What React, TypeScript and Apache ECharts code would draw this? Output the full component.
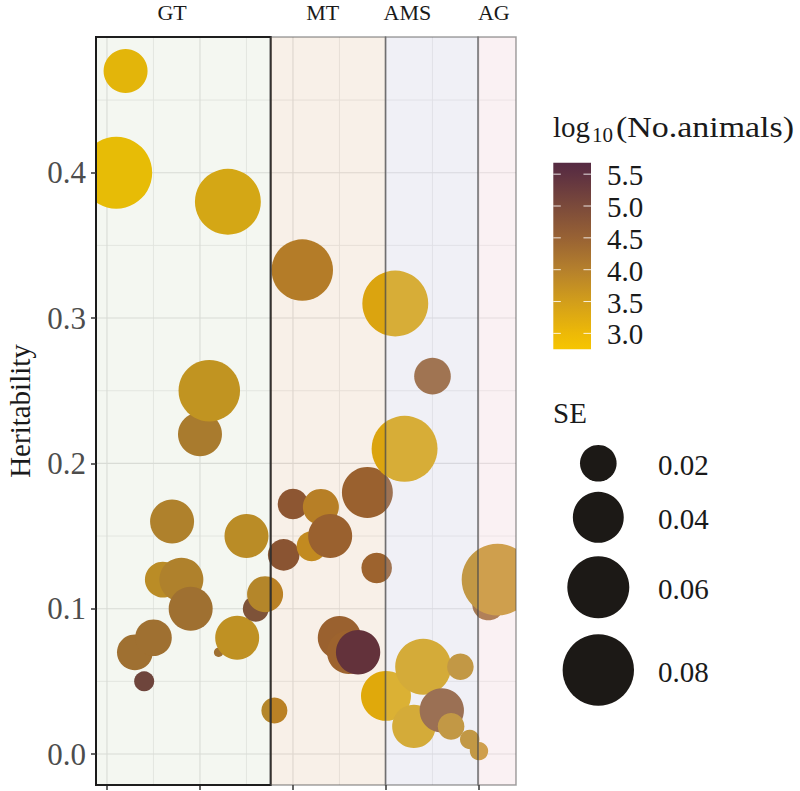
import { useEffect, useRef } from "react";
import * as echarts from "echarts";

// ---------------- data ----------------
const traitPosition = [1, 2, 3, 4, 5, 6, 7, 8, 9, 10, 11, 12, 13, 14, 15, 16, 17, 18, 19, 20, 21, 22, 23, 24, 25, 26, 27, 28, 29, 30, 31, 32, 33, 34, 35, 36, 37, 38, 39, 40, 41, 42];
const heritability = [0.40, 0.47, 0.07, 0.05, 0.08, 0.12, 0.16, 0.12, 0.10, 0.22, 0.25, 0.07, 0.38, 0.08, 0.15, 0.10, 0.11, 0.03, 0.137, 0.172, 0.333, 0.143, 0.17, 0.15, 0.08, 0.07, 0.07, 0.18, 0.128, 0.04, 0.31, 0.21, 0.019, 0.06, 0.26, 0.03, 0.019, 0.06, 0.01, 0.002, 0.103, 0.12];
const standardError = [0.081, 0.0295, 0.019, 0.005, 0.020, 0.019, 0.0295, 0.0295, 0.0295, 0.0295, 0.059, 0.0, 0.068, 0.0295, 0.0295, 0.0094, 0.0193, 0.0094, 0.0146, 0.0135, 0.059, 0.013, 0.0193, 0.0295, 0.0287, 0.0287, 0.030, 0.040, 0.0135, 0.0385, 0.068, 0.068, 0.0287, 0.0487, 0.020, 0.030, 0.0099, 0.0099, 0.0046, 0.004, 0.015, 0.081];
const log10Animals = [2.85, 3.0, 4.3, 5.2, 4.3, 3.8, 4.0, 4.0, 4.3, 4.1, 3.65, 4.3, 3.3, 3.7, 3.8, 4.9, 3.9, 3.9, 4.8, 4.75, 4.0, 3.75, 3.95, 4.5, 4.5, 4.45, 5.55, 4.5, 4.45, 3.15, 3.25, 3.25, 3.3, 3.3, 4.45, 4.55, 3.7, 3.7, 3.7, 3.7, 4.4, 3.7];

const regionNames = ["GT", "MT", "AMS", "AG"];
const regionStart = [-1.18, 17.6, 29.95, 39.9];
const regionEnd = [17.6, 29.95, 39.9, 43.98];
const regionLabelPosition = [7.0, 23.2, 32.3, 41.6];

const xMajorBreaks = [0, 10, 20, 30, 40];
const xMinorBreaks = [5, 15, 25, 35];
const yMajorBreaks = [0, 0.1, 0.2, 0.3, 0.4];
const yMinorBreaks = [0.05, 0.15, 0.25, 0.35, 0.45];

const colorBreaks = [3.0, 3.5, 4.0, 4.5, 5.0, 5.5];
const seBreaks = [0.02, 0.04, 0.06, 0.08];

// ---------------- scales / styling ----------------
const X_MIN = -1.18;
const X_MAX = 43.98;
const Y_MIN = -0.02133;
const Y_MAX = 0.4934;
const COLOR_MIN = 2.75;
const COLOR_MAX = 5.68;
const colorStops: [number, string][] = [
  [2.75, "#F6C500"],
  [3.0, "#EDB907"],
  [3.5, "#D29E1B"],
  [4.0, "#B5802C"],
  [4.5, "#986234"],
  [5.0, "#7B4A3B"],
  [5.5, "#5E3141"],
  [5.68, "#552A42"],
];
const SERIF = "'Liberation Serif', 'Times New Roman', serif";

const regionFill = ["rgba(98,141,55,0.07)", "rgba(177,88,0,0.09)", "rgba(180,180,210,0.2)", "rgba(235,200,208,0.25)"];
const regionStroke = ["#1e1e1e", "rgba(70,70,70,0.5)", "rgba(70,70,70,0.5)", "rgba(70,70,70,0.5)"];
const regionLineWidth = [2, 1.5, 1.5, 1.5];

function hexToRgb(h: string) {
  return [parseInt(h.slice(1, 3), 16), parseInt(h.slice(3, 5), 16), parseInt(h.slice(5, 7), 16)];
}
function colorFor(v: number) {
  if (v <= colorStops[0][0]) return colorStops[0][1];
  for (let i = 1; i < colorStops.length; i++) {
    if (v <= colorStops[i][0]) {
      const [v0, c0] = colorStops[i - 1];
      const [v1, c1] = colorStops[i];
      const t = (v - v0) / (v1 - v0);
      const a = hexToRgb(c0);
      const b = hexToRgb(c1);
      const m = a.map((x, k) => Math.round(x + (b[k] - x) * t));
      return `rgb(${m[0]},${m[1]},${m[2]})`;
    }
  }
  return colorStops[colorStops.length - 1][1];
}
const seRadius = (se: number) => Math.sqrt(22 + 15650 * se);

const textStyle = (text: string, size: number, extra: any = {}) => ({
  text,
  fontSize: size,
  fontFamily: SERIF,
  fill: "#1a1a1a",
  align: "left",
  textAlign: "left",
  verticalAlign: "middle",
  textVerticalAlign: "middle",
  ...extra,
});

export default function App() {
  const ref = useRef<HTMLDivElement>(null);
  useEffect(() => {
    if (!ref.current) return;
    const chart = echarts.init(ref.current, undefined, { renderer: "svg" });

    const points = traitPosition.map((x, i) => [x, heritability[i], standardError[i], log10Animals[i]]);

    // colour bar legend
    const barX = 553.3, barY = 162.7, barW = 37.7, barH = 186.6;
    const gradStops = colorStops
      .map(([v, c]) => ({ offset: (COLOR_MAX - v) / (COLOR_MAX - COLOR_MIN), color: c }))
      .sort((a, b) => a.offset - b.offset);
    const tickY = (v: number) => barY + ((COLOR_MAX - v) / (COLOR_MAX - COLOR_MIN)) * barH;

    const graphics: any[] = [
      { type: "text", x: 553, y: 127, style: textStyle("log", 29) },
      { type: "text", x: 592, y: 135, style: textStyle("10", 21) },
      { type: "text", x: 616, y: 127, scaleX: 1.17, style: textStyle("(No.animals)", 29) },
      {
        type: "rect", shape: { x: barX, y: barY, width: barW, height: barH },
        style: { fill: new echarts.graphic.LinearGradient(0, 0, 0, 1, gradStops) },
      },
      { type: "text", x: 553, y: 413, style: textStyle("SE", 29) },
    ];
    colorBreaks.forEach((v) => {
      const y = tickY(v);
      graphics.push({ type: "line", shape: { x1: barX, y1: y, x2: barX + barW / 5, y2: y }, style: { stroke: "rgba(255,255,255,0.85)", lineWidth: 1 } });
      graphics.push({ type: "line", shape: { x1: barX + barW * 0.8, y1: y, x2: barX + barW, y2: y }, style: { stroke: "rgba(255,255,255,0.85)", lineWidth: 1 } });
      graphics.push({ type: "text", x: 607, y: y + 1, style: textStyle(v.toFixed(1), 29) });
    });
    const seKeyY = [463.3, 517.3, 587.3, 670];
    seBreaks.forEach((se, i) => {
      graphics.push({ type: "circle", shape: { cx: 598.3, cy: seKeyY[i], r: seRadius(se) }, style: { fill: "#1c1916" } });
      graphics.push({ type: "text", x: 658, y: seKeyY[i] + 1.5, style: textStyle(se.toFixed(2), 29) });
    });

    const option: any = {
      animation: false,
      backgroundColor: "#ffffff",
      grid: { left: 96, right: 284, top: 37, bottom: 6, containLabel: false, outerBoundsMode: "none" },
      xAxis: {
        type: "value",
        min: X_MIN,
        max: X_MAX,
        axisLine: { show: false, onZero: false },
        axisTick: { show: true, length: 5, customValues: xMajorBreaks, lineStyle: { color: "#333333", width: 1.5 } },
        axisLabel: { show: false },
        splitLine: { show: false },
      },
      yAxis: {
        type: "value",
        min: Y_MIN,
        max: Y_MAX,
        z: 10,
        name: "Heritability",
        nameLocation: "middle",
        nameGap: 62,
        nameRotate: 90,
        nameTextStyle: { fontFamily: SERIF, fontSize: 29, color: "#1a1a1a" },
        axisLine: { show: true, onZero: false, lineStyle: { color: "#1a1a1a", width: 2 } },
        axisTick: { show: true, length: 5, customValues: yMajorBreaks, lineStyle: { color: "#333333", width: 1.5 } },
        axisLabel: {
          customValues: yMajorBreaks,
          margin: 10,
          fontFamily: SERIF,
          fontSize: 31,
          color: "#4d4d4d",
          formatter: (v: number) => (Math.abs(v * 10 - Math.round(v * 10)) < 1e-6 ? v.toFixed(1) : ""),
        },
        splitLine: { show: false },
      },
      series: [
        {
          type: "custom",
          z: 1,
          silent: true,
          data: [[0, 0]],
          renderItem: (_params: any, api: any) => {
            const tl = api.coord([X_MIN, Y_MAX]);
            const br = api.coord([X_MAX, Y_MIN]);
            const children: any[] = [];
            const vline = (v: number, minor: boolean) => {
              const x = api.coord([v, 0])[0];
              children.push({ type: "line", shape: { x1: x, y1: tl[1], x2: x, y2: br[1] }, style: { stroke: minor ? "#ebebeb" : "#e2e2e2", lineWidth: minor ? 0.9 : 1.1 } });
            };
            const hline = (v: number, minor: boolean) => {
              const y = api.coord([0, v])[1];
              children.push({ type: "line", shape: { x1: tl[0], y1: y, x2: br[0], y2: y }, style: { stroke: minor ? "#ebebeb" : "#e2e2e2", lineWidth: minor ? 0.9 : 1.1 } });
            };
            xMinorBreaks.forEach((v) => vline(v, true));
            yMinorBreaks.forEach((v) => hline(v, true));
            xMajorBreaks.forEach((v) => vline(v, false));
            yMajorBreaks.forEach((v) => hline(v, false));
            return { type: "group", children };
          },
        },
        {
          // bubbles: heritability vs trait, size = SE, colour = log10(No.animals); clipped to the panel
          type: "custom",
          name: "Heritability",
          z: 2,
          clip: true,
          data: points,
          encode: { x: 0, y: 1 },
          renderItem: (_params: any, api: any) => {
            const c = api.coord([api.value(0), api.value(1)]);
            return {
              type: "circle",
              shape: { cx: c[0], cy: c[1], r: seRadius(api.value(2)) },
              style: { fill: colorFor(api.value(3)) },
            };
          },
        },
        {
          type: "custom",
          z: 3,
          silent: true,
          data: regionStart.map((s, i) => [s, regionEnd[i], regionLabelPosition[i]]),
          renderItem: (params: any, api: any) => {
            const i = params.dataIndex;
            const a = api.coord([api.value(0), Y_MAX]);
            const b = api.coord([api.value(1), Y_MIN]);
            const lx = api.coord([api.value(2), Y_MAX])[0];
            return {
              type: "group",
              children: [
                {
                  type: "rect",
                  shape: { x: a[0], y: a[1], width: b[0] - a[0], height: b[1] - a[1] },
                  style: { fill: regionFill[i], stroke: regionStroke[i], lineWidth: regionLineWidth[i] },
                },
                {
                  type: "text",
                  x: lx,
                  y: a[1] - 25,
                  style: { text: regionNames[i], fill: "#1a1a1a", fontSize: 22, fontFamily: SERIF, align: "center", textAlign: "center", verticalAlign: "middle", textVerticalAlign: "middle" },
                },
              ],
            };
          },
        },
      ],
      graphic: { elements: graphics },
    };
    chart.setOption(option);
    return () => chart.dispose();
  }, []);
  return <div ref={ref} style={{ position: "fixed", left: 0, top: 0, width: 800, height: 791 }} />;
}
